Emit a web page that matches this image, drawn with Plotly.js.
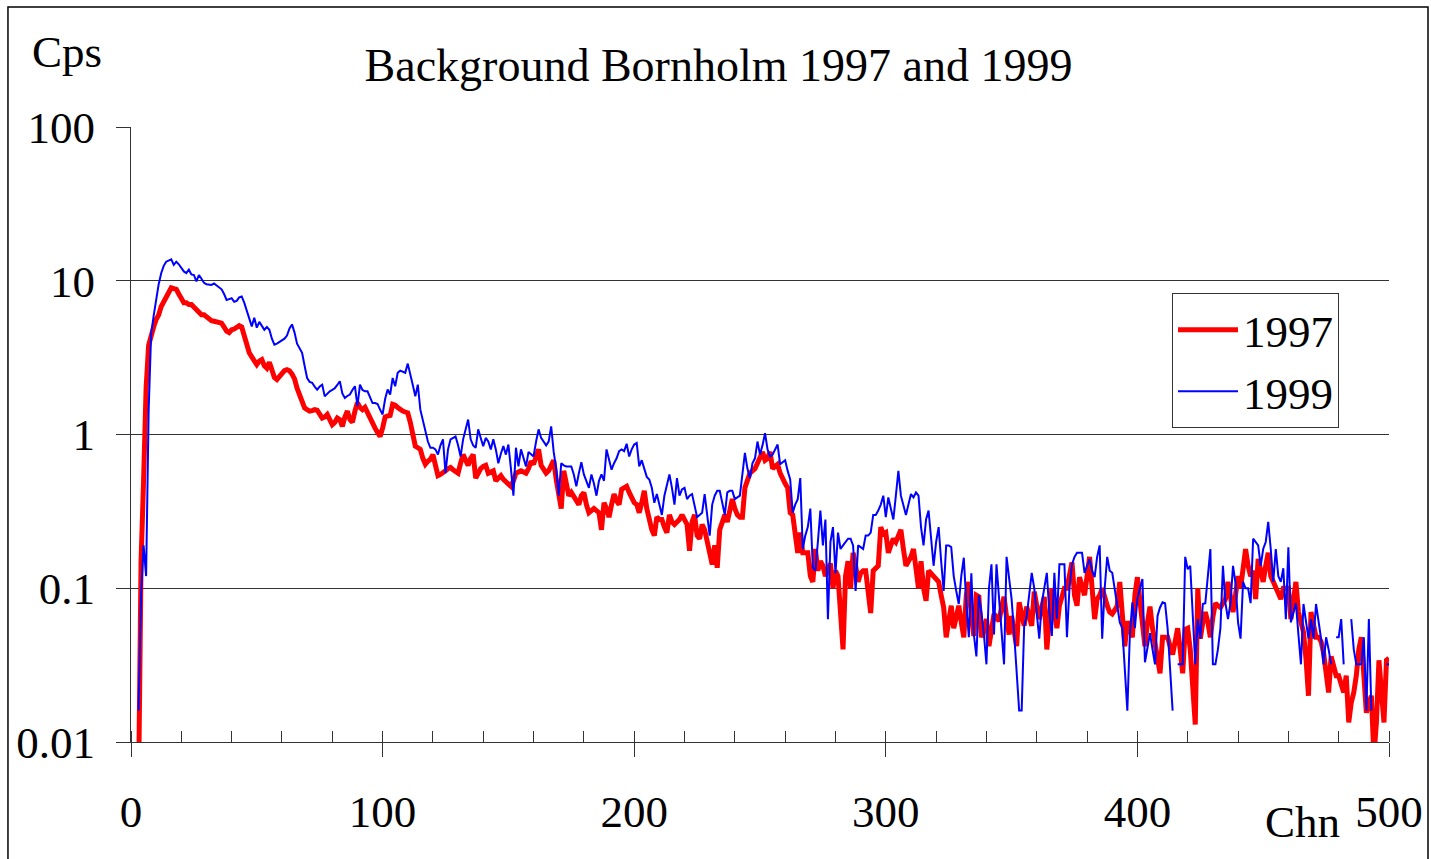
<!DOCTYPE html>
<html>
<head>
<meta charset="utf-8">
<script src="https://cdn.plot.ly/plotly-3.0.1.min.js"></script>
<style>html,body{margin:0;padding:0;background:#fff;}#chart{width:1431px;height:859px;}</style>
</head>
<body>
<div id="chart"></div>
<script>
// Channel counts per second, arrays indexed by channel number 0..500
const firstChannel = 0;
const cps1997 = [
  null, null, null, 0.005, 0.15, 0.5, 2.0, 3.8, 4.5, 5.0,
  5.6, 6.0, 6.8, 7.3, 8.0, 8.7, 9.0, 8.9, 8.8, 8.2,
  7.6, 7.2, 7.2, 7.0, 7.0, 6.7, 6.5, 6.3, 6.0, 6.0,
  5.8, 5.7, 5.5, 5.45, 5.4, 5.35, 5.3, 5.0, 4.7, 4.6,
  4.8, 4.85, 5.0, 5.1, 5.0, 4.4, 3.8, 3.4, 3.2, 3.0,
  2.85, 3.0, 3.07, 2.8, 2.7, 2.95, 2.6, 2.35, 2.28, 2.4,
  2.52, 2.6, 2.64, 2.6, 2.47, 2.3, 2.0, 1.8, 1.6, 1.49,
  1.45, 1.42, 1.43, 1.45, 1.44, 1.35, 1.28, 1.3, 1.35, 1.25,
  1.16, 1.2, 1.28, 1.25, 1.13, 1.3, 1.42, 1.25, 1.2, 1.42,
  1.61, 1.5, 1.45, 1.5, 1.38, 1.25, 1.18, 1.1, 1.03, 0.97,
  1.1, 1.3, 1.32, 1.33, 1.57, 1.55, 1.5, 1.45, 1.42, 1.4,
  1.38, 1.2, 0.95, 0.84, 0.82, 0.8, 0.7, 0.64, 0.67, 0.69,
  0.74, 0.62, 0.54, 0.55, 0.56, 0.58, 0.6, 0.61, 0.59, 0.58,
  0.56, 0.65, 0.74, 0.68, 0.63, 0.7, 0.74, 0.52, 0.57, 0.6,
  0.62, 0.63, 0.56, 0.57, 0.58, 0.5, 0.52, 0.54, 0.51, 0.49,
  0.48, 0.46, 0.5, 0.56, 0.57, 0.58, 0.57, 0.56, 0.6, 0.67,
  0.64, 0.7, 0.8, 0.63, 0.6, 0.56, 0.58, 0.62, 0.68, 0.51,
  0.4, 0.33, 0.58, 0.5, 0.4, 0.42, 0.39, 0.37, 0.35, 0.4,
  0.42, 0.35, 0.31, 0.32, 0.33, 0.32, 0.31, 0.24, 0.36, 0.33,
  0.29, 0.35, 0.41, 0.37, 0.35, 0.44, 0.45, 0.46, 0.42, 0.38,
  0.36, 0.35, 0.31, 0.36, 0.43, 0.33, 0.27, 0.24, 0.22, 0.29,
  0.28, 0.28, 0.25, 0.23, 0.3, 0.27, 0.26, 0.27, 0.28, 0.3,
  0.28, 0.26, 0.175, 0.27, 0.3, 0.22, 0.21, 0.26, 0.24, 0.2,
  0.17, 0.143, 0.19, 0.136, 0.24, 0.27, 0.3, 0.27, 0.32, 0.38,
  0.33, 0.3, 0.29, 0.29, 0.45, 0.52, 0.56, 0.58, 0.6, 0.65,
  0.72, 0.77, 0.68, 0.7, 0.77, 0.6, 0.62, 0.64, 0.56, 0.51,
  0.48, 0.45, 0.31, 0.3, 0.22, 0.17, 0.23, 0.17, 0.17, 0.17,
  0.12, 0.11, 0.18, 0.13, 0.15, 0.14, 0.12, 0.13, 0.145, 0.1,
  0.13, 0.12, 0.07, 0.04, 0.12, 0.15, 0.1, 0.17, 0.14, 0.11,
  0.125, 0.13, 0.13, 0.1, 0.069, 0.13, 0.135, 0.14, 0.25, 0.225,
  0.23, 0.17, 0.19, 0.21, 0.2, 0.22, 0.24, 0.18, 0.14, 0.15,
  0.16, 0.18, 0.14, 0.1, 0.15, 0.1, 0.083, 0.13, 0.125, 0.12,
  0.115, 0.11, 0.09, 0.075, 0.048, 0.065, 0.077, 0.055, 0.065, 0.077,
  0.06, 0.048, 0.09, 0.11, 0.067, 0.049, 0.09, 0.088, 0.048, 0.055,
  0.063, 0.042, 0.055, 0.068, 0.065, 0.061, 0.075, 0.088, 0.065, 0.05,
  0.066, 0.055, 0.042, 0.081, 0.065, 0.057, 0.076, 0.065, 0.057, 0.095,
  0.08, 0.063, 0.075, 0.088, 0.04, 0.07, 0.1, 0.07, 0.055, 0.077,
  0.09, 0.1, 0.1, 0.12, 0.147, 0.09, 0.077, 0.118, 0.1, 0.09,
  0.12, 0.16, 0.1, 0.063, 0.085, 0.09, 0.1, 0.085, 0.077, 0.07,
  0.068, 0.072, 0.077, 0.11, 0.06, 0.042, 0.061, 0.055, 0.048, 0.09,
  0.118, 0.083, 0.06, 0.042, 0.06, 0.076, 0.055, 0.044, 0.035, 0.028,
  0.048, 0.048, 0.048, 0.042, 0.037, 0.045, 0.055, 0.04, 0.028, 0.054,
  0.055, 0.04, 0.025, 0.013, 0.1, 0.047, 0.06, 0.07, 0.06, 0.048,
  0.065, 0.08, 0.077, 0.075, 0.08, 0.085, 0.11, 0.09, 0.07, 0.09,
  0.12, 0.1, 0.14, 0.18, 0.14, 0.12, 0.13, 0.085, 0.155, 0.13,
  0.11, 0.14, 0.17, 0.12, 0.11, 0.1, 0.095, 0.085, 0.1, 0.1,
  0.1, 0.063, 0.09, 0.11, 0.07, 0.06, 0.052, 0.035, 0.02, 0.07,
  0.055, 0.048, 0.048, 0.045, 0.038, 0.028, 0.021, 0.036, 0.03, 0.027,
  0.027, 0.024, 0.021, 0.027, 0.0134, 0.018, 0.021, 0.027, 0.04, 0.048,
  0.027, 0.0155, 0.018, 0.02, 0.008, 0.0134, 0.034, 0.02, 0.0134, 0.034,
  0.035
];
const cps1999 = [
  null, null, null, 0.016, 0.09, 0.19, 0.12, 1.4, 4.5, 5.9,
  7.5, 9.5, 11.2, 12.5, 13.3, 13.5, 13.8, 12.7, 13.3, 12.8,
  12.0, 11.5, 11.2, 11.8, 11.0, 10.9, 9.9, 10.9, 10.3, 9.7,
  9.5, 9.5, 9.4, 9.6, 9.3, 9.0, 8.8, 8.2, 7.5, 7.6,
  7.7, 7.3, 7.4, 7.8, 7.9, 7.2, 6.4, 5.5, 5.05, 5.75,
  4.95, 5.4, 5.1, 4.8, 5.0, 4.8, 4.2, 3.84, 3.9, 4.0,
  4.05, 4.2, 4.4, 4.9, 5.2, 4.6, 3.9, 3.6, 3.4, 2.8,
  2.33, 2.2, 2.17, 2.05, 1.96, 2.05, 2.11, 1.77, 1.85, 1.91,
  1.95, 2.0, 2.1, 2.22, 1.85, 1.73, 1.78, 1.82, 1.95, 2.06,
  1.53, 2.11, 1.95, 1.91, 1.91, 1.75, 1.6, 1.6, 1.58, 1.45,
  1.35, 1.7, 1.96, 1.82, 2.33, 2.06, 2.52, 2.6, 2.55, 2.52,
  2.89, 2.5, 2.1, 1.77, 2.11, 1.45, 1.25, 1.08, 0.9, 0.82,
  0.82, 0.8, 0.74, 0.85, 0.93, 0.56, 0.8, 0.93, 0.95, 0.97,
  0.85, 0.72, 0.93, 1.1, 1.25, 0.93, 0.85, 0.82, 1.08, 0.95,
  0.84, 0.95, 0.9, 0.8, 0.93, 0.8, 0.65, 0.75, 0.84, 0.74,
  0.86, 0.6, 0.4, 0.82, 0.62, 0.8, 0.7, 0.62, 0.77, 0.74,
  0.72, 0.9, 1.08, 0.95, 0.9, 0.85, 0.9, 1.13, 0.77, 0.6,
  0.4, 0.65, 0.63, 0.62, 0.62, 0.62, 0.55, 0.46, 0.56, 0.66,
  0.55, 0.5, 0.45, 0.55, 0.48, 0.4, 0.5, 0.55, 0.5, 0.8,
  0.7, 0.59, 0.65, 0.7, 0.78, 0.8, 0.78, 0.87, 0.72, 0.8,
  0.86, 0.88, 0.62, 0.68, 0.6, 0.53, 0.51, 0.45, 0.36, 0.41,
  0.35, 0.3, 0.4, 0.48, 0.55, 0.45, 0.35, 0.52, 0.4, 0.44,
  0.45, 0.38, 0.4, 0.41, 0.35, 0.29, 0.3, 0.31, 0.41, 0.3,
  0.22, 0.35, 0.4, 0.43, 0.43, 0.36, 0.3, 0.42, 0.43, 0.43,
  0.38, 0.39, 0.4, 0.55, 0.76, 0.6, 0.52, 0.65, 0.7, 0.9,
  0.74, 0.85, 1.02, 0.8, 0.72, 0.74, 0.8, 0.86, 0.64, 0.66,
  0.68, 0.58, 0.51, 0.31, 0.35, 0.38, 0.52, 0.18, 0.22, 0.25,
  0.33, 0.136, 0.13, 0.2, 0.32, 0.19, 0.28, 0.063, 0.2, 0.25,
  0.125, 0.23, 0.18, 0.19, 0.2, 0.21, 0.21, 0.19, 0.096, 0.19,
  0.185, 0.18, 0.22, 0.22, 0.23, 0.3, 0.3, 0.32, 0.35, 0.4,
  0.29, 0.39, 0.33, 0.28, 0.4, 0.58, 0.4, 0.34, 0.3, 0.35,
  0.41, 0.39, 0.42, 0.4, 0.25, 0.19, 0.28, 0.32, 0.2, 0.14,
  0.2, 0.25, 0.15, 0.096, 0.19, 0.19, 0.185, 0.12, 0.096, 0.079,
  0.12, 0.158, 0.08, 0.048, 0.125, 0.05, 0.036, 0.09, 0.07, 0.05,
  0.032, 0.1, 0.143, 0.05, 0.143, 0.09, 0.05, 0.032, 0.16, 0.12,
  0.085, 0.051, 0.03, 0.016, 0.016, 0.057, 0.066, 0.09, 0.126, 0.1,
  0.07, 0.047, 0.08, 0.1, 0.126, 0.07, 0.049, 0.126, 0.063, 0.143,
  0.143, 0.143, 0.048, 0.1, 0.143, 0.16, 0.17, 0.17, 0.17, 0.126,
  0.14, 0.155, 0.13, 0.118, 0.16, 0.19, 0.047, 0.1, 0.16, 0.13,
  0.126, 0.1, 0.081, 0.06, 0.055, 0.03, 0.016, 0.05, 0.081, 0.055,
  0.085, 0.1, 0.115, 0.033, 0.04, 0.051, 0.04, 0.032, 0.066, 0.075,
  0.081, 0.08, 0.055, 0.03, 0.016, null, 0.032, 0.032, 0.032, 0.16,
  0.133, 0.14, 0.07, 0.032, 0.063, 0.047, 0.079, 0.08, 0.12, 0.18,
  0.032, 0.032, 0.04, 0.055, 0.14, 0.08, 0.063, 0.08, 0.14, 0.108,
  0.06, 0.047, 0.11, 0.1, 0.1, 0.08, 0.21, 0.2, 0.19, 0.14,
  0.18, 0.2, 0.27, 0.18, 0.11, 0.18, 0.12, 0.11, 0.135, 0.063,
  0.185, 0.06, 0.07, 0.08, 0.05, 0.032, 0.079, 0.06, 0.047, 0.063,
  0.047, 0.079, 0.06, 0.047, 0.032, 0.048, 0.04, 0.032, null, 0.048,
  0.048, 0.063, 0.032, null, null, 0.063, 0.04, 0.032, 0.032, 0.032,
  0.048, 0.016, 0.063, 0.016, null, null, null, null, null, 0.032,
  0.032
];
const seriesNames = ['1997', '1999'];
const yTickValues = [0.01, 0.1, 1, 10, 100];
const yTickLabels = ['0.01', '0.1', '1', '10', '100'];
const xTickValues = [0, 100, 200, 300, 400, 500];
const xTickLabels = ['0', '100', '200', '300', '400', '500'];
const titleText = 'Background Bornholm 1997 and 1999';
const yUnitText = 'Cps';
const xUnitText = 'Chn';

const channels = cps1997.map((_, i) => firstChannel + i);

const FONT = 'Liberation Serif, Times New Roman, serif';
const FS = 45;
const AXC = '#333333';

const traces = [
  {x: channels, y: cps1997, name: seriesNames[0], type: 'scatter', mode: 'lines',
   line: {color: '#ff0000', width: 5}, connectgaps: false},
  {x: channels, y: cps1999, name: seriesNames[1], type: 'scatter', mode: 'lines',
   line: {color: '#0000ff', width: 2}, connectgaps: false}
];

const layout = {
  width: 1431, height: 859,
  paper_bgcolor: '#ffffff', plot_bgcolor: '#ffffff',
  margin: {l: 131, r: 42, t: 127, b: 117, pad: 0},
  font: {family: FONT, size: FS, color: '#000000'},
  title: {text: titleText, font: {family: FONT, size: 46, color: '#000'},
          xref: 'paper', x: 0.467, xanchor: 'center', yref: 'container', y: 0.925, yanchor: 'middle'},
  showlegend: true,
  legend: {x: 0.8275, y: 0.730, xanchor: 'left', yanchor: 'top', bgcolor: '#ffffff',
           bordercolor: AXC, borderwidth: 1, font: {family: FONT, size: FS, color: '#000'},
           tracegroupgap: 0, itemwidth: 60},
  xaxis: {range: [0, 500], tickvals: xTickValues, ticktext: xTickLabels,
          showgrid: false, zeroline: false, showline: true, linecolor: AXC, linewidth: 1,
          ticks: 'outside', ticklen: 14, tickcolor: AXC, tickwidth: 1,
          tickfont: {family: FONT, size: FS, color: '#000'}, ticklabelstandoff: 16,
          minor: {dtick: 20, tick0: 0, ticks: 'inside', ticklen: 11, tickcolor: AXC, tickwidth: 1, showgrid: false}},
  yaxis: {type: 'log', range: [-2, 2], tickvals: yTickValues, ticktext: yTickLabels,
          showgrid: true, gridcolor: AXC, gridwidth: 1, zeroline: false,
          showline: true, linecolor: AXC, linewidth: 1,
          ticks: 'outside', ticklen: 14, tickcolor: AXC, tickwidth: 1,
          tickfont: {family: FONT, size: FS, color: '#000'}, ticklabelstandoff: 12},
  annotations: [
    {text: yUnitText, xref: 'paper', yref: 'paper', x: -0.0509, y: 1.122,
     xanchor: 'center', yanchor: 'middle', showarrow: false, font: {family: FONT, size: FS, color: '#000'}},
    {text: xUnitText, xref: 'paper', yref: 'paper', x: 0.931, y: -0.130,
     xanchor: 'center', yanchor: 'middle', showarrow: false, font: {family: FONT, size: FS, color: '#000'}}
  ],
  shapes: [
    {type: 'rect', xref: 'paper', yref: 'paper', x0: -0.0978, x1: 1.0310, y0: -0.2, y1: 1.1951,
     line: {color: '#000000', width: 1.5}, fillcolor: 'rgba(0,0,0,0)', layer: 'below'}
  ]
};

Plotly.newPlot('chart', traces, layout, {displayModeBar: false, staticPlot: true});
</script>
</body>
</html>
